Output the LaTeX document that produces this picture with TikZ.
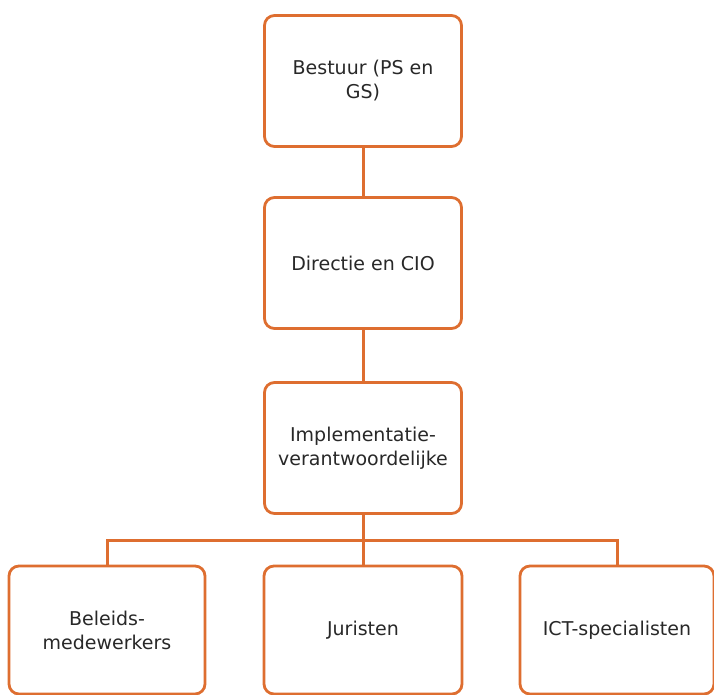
\documentclass[tikz,border=0pt]{standalone}
\usepackage{fontspec}
\setmainfont{DejaVu Sans}
\definecolor{orgline}{RGB}{222,110,48}
\definecolor{txtgray}{RGB}{40,40,40}
\begin{document}
\begin{tikzpicture}[x=1pt,y=-1pt,
  orgbox/.style={draw=orgline, line width=2.8pt, rounded corners=10pt, fill=white,
    minimum width=197pt, minimum height=131pt, inner sep=0pt, align=center,
    text=txtgray, font=\fontsize{19}{24}\selectfont},
  link/.style={draw=orgline, line width=3pt}]
\useasboundingbox (0,0) rectangle (714,695);
\node[orgbox] (bestuur) at (363,81) {Bestuur (PS en\\GS)};
\node[orgbox] (directie) at (363,263) {Directie en CIO};
\node[orgbox] (impl) at (363,448) {Implementatie-\\verantwoordelijke};
\node[orgbox, minimum width=196pt, minimum height=128pt] (beleid) at (107,630) {Beleids-\\medewerkers};
\node[orgbox, minimum width=198pt, minimum height=128pt] (juristen) at (363,630) {Juristen};
\node[orgbox, minimum width=194pt, minimum height=128pt] (ict) at (617,630) {ICT-specialisten};
\coordinate (bus) at (363,540);
\draw[link] (bestuur) -- (directie);
\draw[link] (directie) -- (impl);
\draw[link] (impl) -- (juristen);
\draw[link] (beleid.north) |- (bus) -| (ict.north);
\end{tikzpicture}
\end{document}
